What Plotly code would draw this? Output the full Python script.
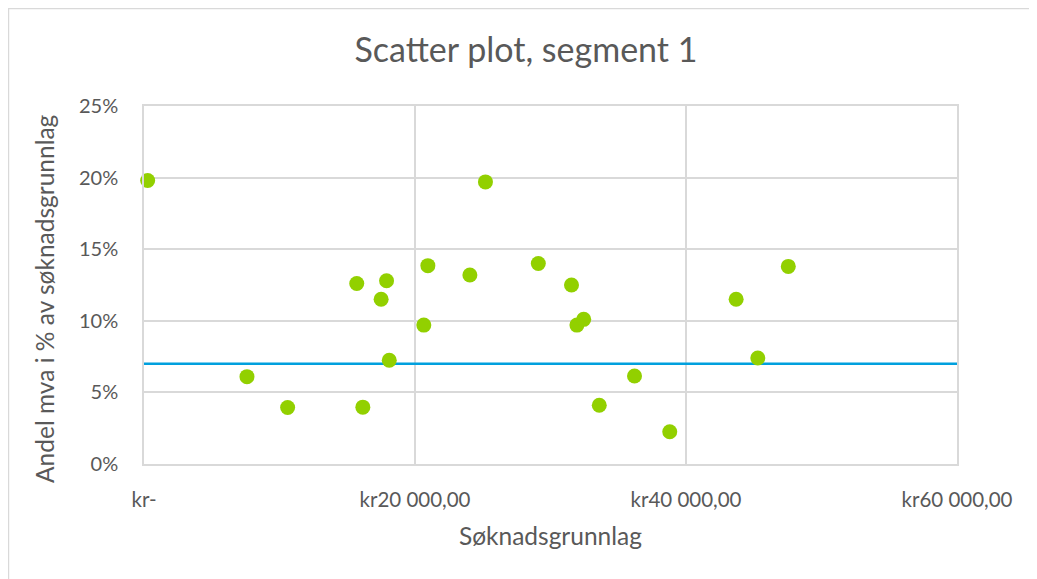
import plotly.graph_objects as go

# Søknadsgrunnlag (kr) and andel mva (fraction)
soknad = [270, 7600, 10600, 15700, 16150, 17500, 17900, 18100, 20650, 20950, 24050,
          25200, 29100, 31550, 31950, 32450, 33600, 36200, 38800, 43700, 45300, 47550]
andel = [0.198, 0.061, 0.0395, 0.126, 0.0397, 0.115, 0.128, 0.0725, 0.097, 0.1385, 0.132,
         0.197, 0.140, 0.125, 0.097, 0.101, 0.041, 0.0615, 0.0225, 0.115, 0.074, 0.138]

# reference line
ref_x = [0, 60000]
ref_y = [0.07, 0.07]

x_ticks = [0, 20000, 40000, 60000]
x_labels = ["kr-", "kr20 000,00", "kr40 000,00", "kr60 000,00"]
y_ticks = [0, 0.05, 0.10, 0.15, 0.20, 0.25]
y_labels = ["0%", "5%", "10%", "15%", "20%", "25%"]

grey = "#595959"
font = "Lato, Open Sans, sans-serif"

fig = go.Figure()
fig.add_trace(go.Scatter(x=ref_x, y=ref_y, mode="lines",
                         line=dict(color="#00A0DE", width=2.5),
                         showlegend=False, cliponaxis=False))
fig.add_trace(go.Scatter(x=soknad, y=andel, mode="markers",
                         marker=dict(color="#92D000", size=15),
                         showlegend=False, cliponaxis=False))

fig.update_layout(
    width=1037, height=579,
    margin=dict(l=136, r=88, t=98, b=123),
    paper_bgcolor="white", plot_bgcolor="white",
    font=dict(family=font, color=grey),
    title=dict(text="Scatter plot, segment 1", x=0.4995, xanchor="center",
               y=0.9275, yanchor="middle", font=dict(size=34, color=grey)),
    shapes=[dict(type="rect", xref="paper", yref="paper",
                 x0=-0.1667, x1=1.2, y0=-0.5, y1=1.2723,
                 line=dict(color="#d9d9d9", width=1.5), layer="below")],
    annotations=[dict(text="Andel mva i % av søknadsgrunnlag", textangle=-90,
                      xref="paper", yref="paper", x=-0.1218, y=0.4637,
                      xanchor="center", yanchor="middle", showarrow=False,
                      font=dict(size=24.5, color=grey))],
)
fig.update_xaxes(range=[0, 60000], tickvals=x_ticks, ticktext=x_labels,
                 showgrid=True, gridcolor="#d9d9d9", gridwidth=1.5,
                 showline=True, linecolor="#d9d9d9", linewidth=1.5, mirror=True,
                 zeroline=False, ticks="", ticklabelstandoff=17,
                 tickfont=dict(size=20.5, color=grey),
                 title=dict(text="Søknadsgrunnlag", font=dict(size=24.5, color=grey), standoff=18))
fig.update_yaxes(range=[0, 0.25], tickvals=y_ticks, ticktext=y_labels,
                 showgrid=True, gridcolor="#d9d9d9", gridwidth=1.5,
                 showline=True, linecolor="#d9d9d9", linewidth=1.5, mirror=True,
                 zeroline=False, ticks="", ticklabelstandoff=20,
                 tickfont=dict(size=20, color=grey))

fig.write_html("out.html")
